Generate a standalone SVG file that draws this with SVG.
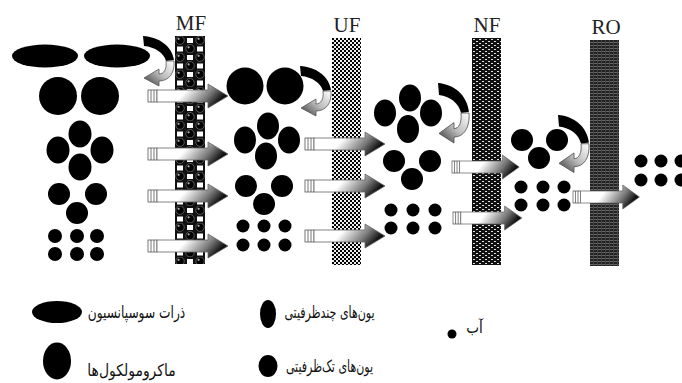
<svg xmlns="http://www.w3.org/2000/svg" width="682" height="383" viewBox="0 0 682 383">
<defs>
<style>
.lbl{font-family:"Liberation Serif","Times New Roman",serif;font-size:21px;fill:#222;text-anchor:middle}
.fa{font-family:"DejaVu Sans",sans-serif;font-size:16.5px;fill:#111;text-anchor:middle}
.p{fill:#000}
</style>
<pattern id="pMF" width="20" height="17" patternUnits="userSpaceOnUse" x="175" y="36">
<rect width="20" height="17" fill="#111"/>
<rect x="12" y="2" width="6" height="5" fill="#fff"/>
<rect x="2" y="10.5" width="6" height="5" fill="#fff"/>
<circle cx="5" cy="4.2" r="4.2" fill="#000" stroke="#888" stroke-width="0.6"/>
<circle cx="3.6" cy="2.8" r="1.1" fill="#aaa"/>
<circle cx="15" cy="12.7" r="4.2" fill="#000" stroke="#888" stroke-width="0.6"/>
<circle cx="13.6" cy="11.3" r="1.1" fill="#aaa"/>
</pattern>
<pattern id="pUF" width="4" height="4" patternUnits="userSpaceOnUse" x="332" y="38">
<rect width="4" height="4" fill="#eee"/>
<rect width="2" height="2" fill="#000"/>
<rect x="2" y="2" width="2" height="2" fill="#000"/>
</pattern>
<pattern id="pNF" width="6" height="4" patternUnits="userSpaceOnUse" x="472" y="38">
<rect width="6" height="4" fill="#111"/>
<rect x="1" y="1" width="2" height="1" fill="#ddd"/>
<rect x="4" y="3" width="2" height="1" fill="#ddd"/>
</pattern>
<pattern id="pRO" width="4" height="3" patternUnits="userSpaceOnUse" x="590" y="40">
<rect width="4" height="3" fill="#222"/>
<rect y="2" width="4" height="1" fill="#666"/>
<rect x="3" width="1" height="3" fill="#444"/>
</pattern>
<linearGradient id="ag" x1="0" y1="0" x2="1" y2="0.3">
<stop offset="0" stop-color="#fff"/>
<stop offset="0.45" stop-color="#fff"/>
<stop offset="0.8" stop-color="#777"/>
<stop offset="1" stop-color="#111"/>
</linearGradient>
<linearGradient id="rg" x1="1" y1="0" x2="0" y2="1">
<stop offset="0" stop-color="#fff"/>
<stop offset="0.5" stop-color="#bbb"/>
<stop offset="1" stop-color="#333"/>
</linearGradient>
<g id="arr">
<rect x="0" y="-6" width="9" height="12" fill="#fff" stroke="#555" stroke-width="0.8"/>
<line x1="3" y1="-6" x2="3" y2="6" stroke="#555" stroke-width="0.8"/>
<line x1="6" y1="-6" x2="6" y2="6" stroke="#555" stroke-width="0.8"/>
<path d="M9,-6 L60,-6 L60,-12 L80,0 L60,12 L60,6 L9,6 Z" fill="url(#ag)" stroke="#666" stroke-width="0.8"/>
</g>
<g id="rej">
<path d="M0,0 C16,1 29,10 31,24 L23,25 C21,17 12,11 1,10 Z" fill="#000"/>
<path d="M23,25 L31,25 C32,37 26,45 16,45 L16,50 L1,42 L16,33 L16,38 C21,38 24,33 23,25 Z" fill="url(#rg)" stroke="#555" stroke-width="0.8"/>
</g>
</defs>

<g id="membranes">
<g id="mf"><rect x="175" y="36" width="30" height="228" fill="url(#pMF)"/><text class="lbl" x="191" y="30">MF</text></g>
<g id="uf"><rect x="332" y="38" width="29" height="227" fill="url(#pUF)"/><text class="lbl" x="347" y="32">UF</text></g>
<g id="nf"><rect x="472" y="38" width="29" height="227" fill="url(#pNF)"/><text class="lbl" x="487" y="32">NF</text></g>
<g id="ro"><rect x="590" y="40" width="29" height="226" fill="url(#pRO)"/><text class="lbl" x="606" y="34">RO</text></g>
</g>

<g id="feed">
<ellipse class="p" cx="45" cy="56" rx="33" ry="11.5"/>
<ellipse class="p" cx="117" cy="56" rx="33" ry="11.5"/>
<circle class="p" cx="58" cy="96" r="19"/>
<circle class="p" cx="100" cy="96" r="19"/>
<ellipse class="p" cx="80" cy="134" rx="11.5" ry="13.5"/>
<ellipse class="p" cx="58" cy="150" rx="11.5" ry="13.5"/>
<ellipse class="p" cx="102" cy="150" rx="11.5" ry="13.5"/>
<ellipse class="p" cx="80" cy="167" rx="11.5" ry="13.5"/>
<circle class="p" cx="59" cy="194" r="11"/>
<circle class="p" cx="96" cy="194" r="11"/>
<circle class="p" cx="77" cy="213" r="11"/>
<circle class="p" cx="55" cy="236" r="7"/><circle class="p" cx="77" cy="236" r="7"/><circle class="p" cx="97" cy="236" r="7"/>
<circle class="p" cx="55" cy="254" r="7"/><circle class="p" cx="77" cy="254" r="7"/><circle class="p" cx="97" cy="254" r="7"/>
</g>

<g id="after-mf">
<circle class="p" cx="245" cy="86" r="18.5"/>
<circle class="p" cx="285" cy="86" r="18.5"/>
<ellipse class="p" cx="268" cy="126" rx="11" ry="13.5"/>
<ellipse class="p" cx="245" cy="140" rx="11" ry="13.5"/>
<ellipse class="p" cx="289" cy="140" rx="11" ry="13.5"/>
<ellipse class="p" cx="266" cy="156" rx="11" ry="13.5"/>
<circle class="p" cx="246" cy="186" r="11"/>
<circle class="p" cx="282" cy="186" r="11"/>
<circle class="p" cx="264" cy="204" r="11"/>
<circle class="p" cx="243" cy="226" r="6.5"/><circle class="p" cx="264" cy="226" r="6.5"/><circle class="p" cx="285" cy="226" r="6.5"/>
<circle class="p" cx="243" cy="245" r="6.5"/><circle class="p" cx="264" cy="245" r="6.5"/><circle class="p" cx="285" cy="245" r="6.5"/>
</g>

<g id="after-uf">
<ellipse class="p" cx="410" cy="98" rx="11" ry="13.5"/>
<ellipse class="p" cx="385" cy="113" rx="11" ry="13.5"/>
<ellipse class="p" cx="431" cy="113" rx="11" ry="13.5"/>
<ellipse class="p" cx="408" cy="129" rx="11" ry="14"/>
<circle class="p" cx="394" cy="161" r="11"/>
<circle class="p" cx="430" cy="161" r="11"/>
<circle class="p" cx="412" cy="179" r="11"/>
<circle class="p" cx="391" cy="210" r="6.5"/><circle class="p" cx="413" cy="210" r="6.5"/><circle class="p" cx="435" cy="210" r="6.5"/>
<circle class="p" cx="391" cy="228" r="6.5"/><circle class="p" cx="413" cy="228" r="6.5"/><circle class="p" cx="435" cy="228" r="6.5"/>
</g>

<g id="after-nf">
<circle class="p" cx="522" cy="140" r="11"/>
<circle class="p" cx="557" cy="140" r="11"/>
<circle class="p" cx="539" cy="158" r="11"/>
<circle class="p" cx="521" cy="187" r="6.5"/><circle class="p" cx="543" cy="187" r="6.5"/><circle class="p" cx="564" cy="187" r="6.5"/>
<circle class="p" cx="521" cy="205" r="6.5"/><circle class="p" cx="543" cy="205" r="6.5"/><circle class="p" cx="564" cy="205" r="6.5"/>
</g>

<g id="after-ro">
<circle class="p" cx="641" cy="161" r="6.5"/><circle class="p" cx="661" cy="161" r="6.5"/><circle class="p" cx="681" cy="161" r="6.5"/>
<circle class="p" cx="641" cy="180" r="6.5"/><circle class="p" cx="661" cy="180" r="6.5"/><circle class="p" cx="681" cy="180" r="6.5"/>
</g>

<g id="connectors">
<use href="#rej" transform="translate(143,36)"/>
<use href="#rej" transform="translate(300,66)"/>
<use href="#rej" transform="translate(438,83) scale(1,1.2)"/>
<use href="#rej" transform="translate(558,115) scale(1,1.15)"/>
<use href="#arr" transform="translate(148,96)"/>
<use href="#arr" transform="translate(148,154)"/>
<use href="#arr" transform="translate(148,196)"/>
<use href="#arr" transform="translate(148,246)"/>
<use href="#arr" transform="translate(305,144)"/>
<use href="#arr" transform="translate(305,186)"/>
<use href="#arr" transform="translate(305,236)"/>
<use href="#arr" transform="translate(452,167) scale(0.84,1)"/>
<use href="#arr" transform="translate(453,218) scale(0.86,1)"/>
<use href="#arr" transform="translate(573,197) scale(0.83,1)"/>
</g>

<g id="legend">
<g id="lg-susp"><ellipse class="p" cx="57" cy="312" rx="25" ry="11"/><text class="fa" transform="translate(136.5,318) scale(0.74,1)">ذرات سوسپانسیون</text></g>
<g id="lg-macro"><ellipse class="p" cx="57" cy="361" rx="14" ry="18.5"/><text class="fa" transform="translate(131.5,376) scale(0.845,1)">ماکرومولکول‌ها</text></g>
<g id="lg-multi"><ellipse class="p" cx="268" cy="314" rx="8" ry="14"/><text class="fa" transform="translate(329.5,318) scale(0.67,1)">یون‌های چندظرفیتی</text></g>
<g id="lg-mono"><ellipse class="p" cx="268" cy="366" rx="9.5" ry="11"/><text class="fa" transform="translate(329.5,372) scale(0.67,1)">یون‌های تک‌ظرفیتی</text></g>
<g id="lg-water"><circle class="p" cx="452" cy="334" r="4.5"/><text class="fa" transform="translate(474.5,333) scale(0.82,1)">آب</text></g>
</g>
</svg>
